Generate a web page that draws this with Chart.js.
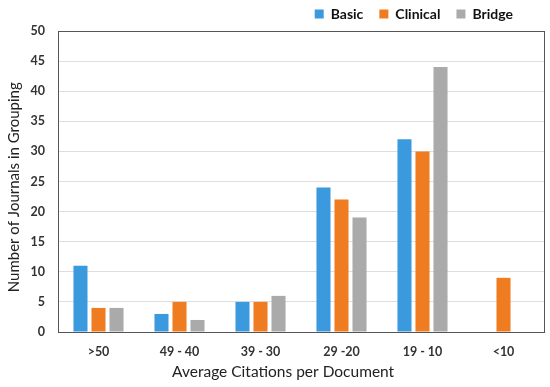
<!DOCTYPE html>
<html><head><meta charset="utf-8">
<script src="https://cdn.jsdelivr.net/npm/chart.js@4/dist/chart.umd.min.js"></script>
<style>html,body{margin:0;padding:0;background:#fff}canvas{display:block}</style>
</head><body>
<canvas id="c" width="550" height="387"></canvas>
<script>
const categories = [">50", "49 - 40", "39 - 30", "29 -20", "19 - 10", "<10"];
const basic = [11, 3, 5, 24, 32, 0];
const clinical = [4, 5, 5, 22, 30, 9];
const bridge = [4, 2, 6, 19, 44, 0];
const yTicks = [0, 5, 10, 15, 20, 25, 30, 35, 40, 45, 50];

const frame = {
  id: 'frame',
  afterDatasetsDraw(chart) {
    const a = chart.chartArea, ctx = chart.ctx;
    ctx.save();
    ctx.strokeStyle = '#555';
    ctx.lineWidth = 1;
    ctx.strokeRect(Math.round(a.left) + 0.5, Math.round(a.top) + 0.5, Math.round(a.right - a.left), Math.round(a.bottom - a.top));
    ctx.restore();
  }
};
const legendFix = {
  id: 'legendFix',
  beforeInit(chart) {
    const lg = chart.legend;
    const orig = lg.fit;
    lg.fit = function () { orig.call(this); this.height = 31; };
  },
  afterLayout(chart) {
    const lg = chart.legend;
    lg.top -= 9;
    lg.left -= 15; lg.right -= 15;
  }
};

new Chart(document.getElementById('c'), {
  type: 'bar',
  data: {
    labels: categories,
    datasets: [
      { label: 'Basic', data: basic, backgroundColor: '#3b99dd' },
      { label: 'Clinical', data: clinical, backgroundColor: '#f07c21' },
      { label: 'Bridge', data: bridge, backgroundColor: '#aaaaaa' }
    ]
  },
  options: {
    responsive: false,
    animation: false,
    devicePixelRatio: 1,
    layout: { padding: { left: 0, right: 6, top: 0, bottom: 0 } },
    datasets: { bar: { categoryPercentage: 0.667, barPercentage: 0.78 } },
    plugins: {
      legend: {
        position: 'top', align: 'end',
        labels: { boxWidth: 9, boxHeight: 9, padding: 16, color: '#111',
          font: { family: 'Lato', weight: 'bold', size: 14 } }
      },
      tooltip: { enabled: false }
    },
    scales: {
      x: {
        grid: { display: false, drawTicks: false },
        border: { color: '#404040', width: 1 },
        ticks: { color: '#333', padding: 12, font: { family: 'Lato', weight: 'bold', size: 12.5 } },
        title: { display: true, text: 'Average Citations per Document         ', color: '#222',
          font: { family: 'Lato', size: 15.5 }, padding: { top: 0, bottom: 6 } },
        afterFit(s) { s.height = 55; }
      },
      y: {
        min: 0, max: 50,
        afterBuildTicks(s) { s.ticks = yTicks.map(v => ({ value: v })); },
        grid: { color: '#dddddd', drawTicks: false },
        border: { color: '#404040', width: 1 },
        ticks: { color: '#333', padding: 13, font: { family: 'Lato', weight: 'bold', size: 12.5 } },
        title: { display: true, text: 'Number of Journals in Grouping   ', color: '#222',
          font: { family: 'Lato', size: 15 }, padding: { top: 5, bottom: 0 } },
        afterFit(s) { s.width = 58; }
      }
    }
  },
  plugins: [frame, legendFix]
});
</script>
</body></html>
